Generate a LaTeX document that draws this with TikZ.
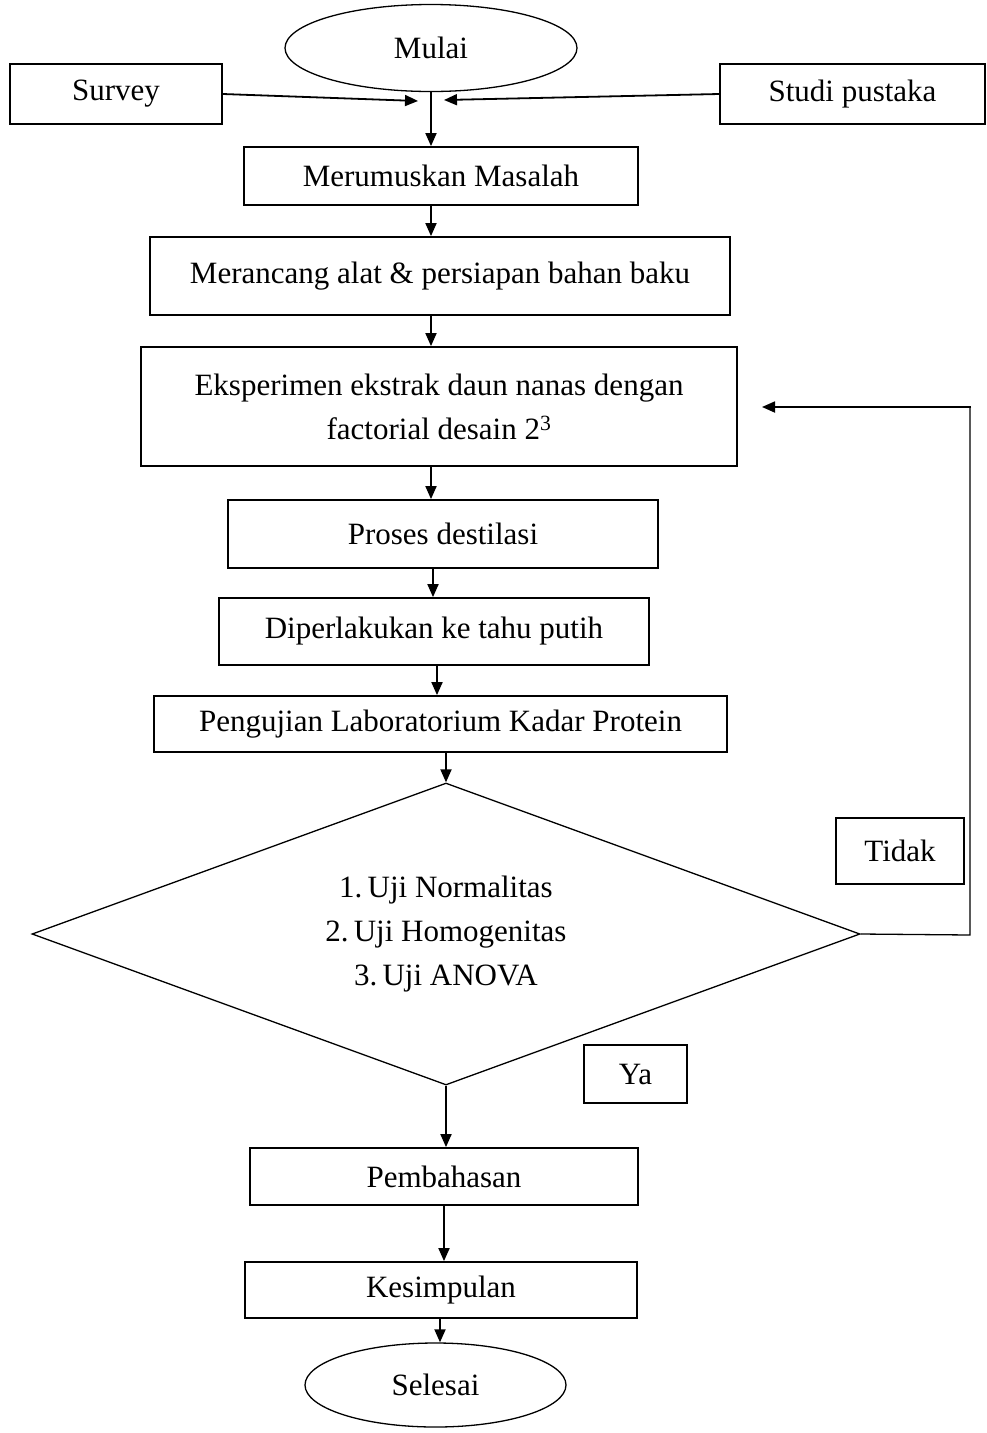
\documentclass[tikz,border=0pt]{standalone}
\usepackage{fontspec}
\setmainfont{Liberation Serif}
\usetikzlibrary{shapes.geometric,arrows.meta}
\begin{document}
\begin{tikzpicture}[x=1pt,y=-1pt,
  every node/.style={font=\fontsize{31}{44}\selectfont, inner sep=0pt},
  box/.style={draw, line width=1.8pt, rectangle, align=center},
  oval/.style={draw, line width=1.3pt, ellipse},
  dec/.style={draw, line width=1.3pt, diamond, aspect=2.74, align=center},
  arr/.style={line width=1.8pt, -{Triangle[length=13pt,width=11pt]}},
  lnk/.style={line width=1.3pt}]
\useasboundingbox (0,0) rectangle (986,1433);

\node[oval, minimum width=292, minimum height=87] (mulai) at (431,48) {Mulai};
\node[box, minimum width=212, minimum height=60] (survey) at (116,94) {Survey};
\node[box, minimum width=265, minimum height=60] (studi) at (852.5,94) {Studi pustaka};
\node[box, minimum width=394, minimum height=58] (merumuskan) at (441,176) {Merumuskan Masalah};
\node[box, minimum width=580, minimum height=78] (merancang) at (440,276) {Merancang alat \& persiapan bahan baku};
\node[box, minimum width=596, minimum height=119] (eksperimen) at (439,406.5) {Eksperimen ekstrak daun nanas dengan\\factorial desain 2\textsuperscript{3}};
\node[box, minimum width=430, minimum height=68] (proses) at (443,534) {Proses destilasi};
\node[box, minimum width=430, minimum height=67] (diperlakukan) at (434,631.5) {Diperlakukan ke tahu putih};
\node[box, minimum width=573, minimum height=56] (pengujian) at (440.5,724) {Pengujian Laboratorium Kadar Protein};
\node[dec, minimum width=828, minimum height=302] (uji) at (446,934) {1.\,Uji Normalitas\\2.\,Uji Homogenitas\\3.\,Uji ANOVA};
\node[box, line width=1.3pt, minimum width=128, minimum height=66] (tidak) at (900,851) {Tidak};
\node[box, line width=1.3pt, minimum width=103, minimum height=58] (ya) at (635.5,1074) {Ya};
\node[box, minimum width=388, minimum height=57] (pembahasan) at (444,1176.5) {Pembahasan};
\node[box, minimum width=392, minimum height=56] (kesimpulan) at (441,1290) {Kesimpulan};
\node[oval, minimum width=261, minimum height=84] (selesai) at (435.5,1385) {Selesai};

\coordinate (sv) at (418,101);
\coordinate (st) at (444,100);
\coordinate (back) at (762,407);

\draw[arr] (mulai.south) -- (mulai.south |- merumuskan.north);
\draw[arr] (survey.east) -- (sv);
\draw[arr] (studi.west) -- (st);
\draw[arr] (merumuskan.south -| 431,0) -- (merancang.north -| 431,0);
\draw[arr] (merancang.south -| 431,0) -- (eksperimen.north -| 431,0);
\draw[arr] (eksperimen.south -| 431,0) -- (proses.north -| 431,0);
\draw[arr] (proses.south -| 433,0) -- (diperlakukan.north -| 433,0);
\draw[arr] (diperlakukan.south -| 437,0) -- (pengujian.north -| 437,0);
\draw[arr] (pengujian.south -| 446,0) -- (uji.north);
\draw[arr] (uji.south) -- (pembahasan.north -| uji.south);
\draw[arr] (pembahasan.south -| 444,0) -- (kesimpulan.north -| 444,0);
\draw[arr] (kesimpulan.south -| 440,0) -- (selesai.north -| 440,0);
\draw[lnk] (uji.east) -- (970,935) -- (970,407);
\draw[arr] (971,407) -- (back);
\end{tikzpicture}
\end{document}
